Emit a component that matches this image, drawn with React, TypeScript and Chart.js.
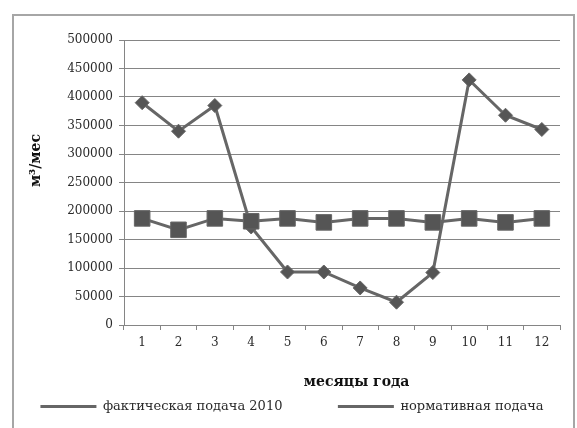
import React, { useEffect, useRef } from "react";
import { Chart, registerables } from "chart.js";

Chart.register(...registerables);

const months = ["1", "2", "3", "4", "5", "6", "7", "8", "9", "10", "11", "12"];
const factual2010 = [390000, 340000, 385000, 172000, 93000, 93000, 65000, 40000, 92000, 430000, 368000, 343000];
const normative = [187000, 167000, 187000, 182000, 187000, 180000, 187000, 187000, 180000, 187000, 180000, 187000];
const yMin = 0;
const yMax = 500000;
const yStep = 50000;
const seriesNames = ["фактическая подача 2010", "нормативная подача"];
const yAxisTitle = "м³/мес";
const xAxisTitle = "месяцы года";

const FONT = "'DejaVu Serif', 'Liberation Serif', serif";
const TEXT = "#2a2a2a";
const GRID = "#858585";
const LINE = "#666666";
const MARK = "#555555";

export default function App() {
  const ref = useRef<HTMLCanvasElement | null>(null);

  useEffect(() => {
    const canvas = ref.current;
    if (!canvas) return;
    const chart = new Chart(canvas, {
      type: "line",
      data: {
        labels: months,
        datasets: [
          {
            label: seriesNames[0],
            data: factual2010,
            borderColor: LINE,
            backgroundColor: MARK,
            borderWidth: 3,
            pointStyle: "rectRot",
            pointRadius: 7,
            pointBorderColor: LINE,
            pointBorderWidth: 1,
            pointBackgroundColor: MARK,
            order: 1,
          },
          {
            label: seriesNames[1],
            data: normative,
            borderColor: LINE,
            backgroundColor: MARK,
            borderWidth: 3,
            pointStyle: "rect",
            pointRadius: 11,
            pointBorderColor: LINE,
            pointBorderWidth: 1,
            pointBackgroundColor: MARK,
            order: 0,
          },
        ],
      },
      options: {
        responsive: false,
        animation: false,
        devicePixelRatio: 1,
        layout: { padding: { left: 10, right: 13, top: 24, bottom: 5 } },
        plugins: {
          tooltip: { enabled: false },
          legend: {
            position: "bottom",
            labels: {
              boxWidth: 56,
              boxHeight: 3,
              padding: 10,
              color: TEXT,
              font: { family: FONT, size: 13 },
              generateLabels: () => [
                {
                  text: seriesNames[0] + "           ",
                  fillStyle: LINE,
                  strokeStyle: LINE,
                  lineWidth: 0,
                  hidden: false,
                  datasetIndex: 0,
                  fontColor: TEXT,
                },
                {
                  text: seriesNames[1],
                  fillStyle: LINE,
                  strokeStyle: LINE,
                  lineWidth: 0,
                  hidden: false,
                  datasetIndex: 1,
                  fontColor: TEXT,
                },
              ],
            },
          },
        },
        scales: {
          x: {
            offset: true,
            grid: {
              drawOnChartArea: false,
              drawTicks: true,
              tickLength: 5,
              offset: true,
              color: GRID,
            },
            border: { color: GRID, width: 1 },
            ticks: { padding: 6, color: TEXT, font: { family: FONT, size: 12 } },
            title: {
              display: true,
              text: "      " + xAxisTitle,
              color: "#111",
              font: { family: FONT, size: 14, weight: "bold", lineHeight: 1 },
              padding: { top: 0, bottom: 1 },
            },
            afterFit: (s: any) => {
              s.height = 65;
            },
          },
          y: {
            min: yMin,
            max: yMax,
            grid: { color: GRID, tickLength: 5, lineWidth: 1 },
            border: { color: GRID, width: 1 },
            ticks: {
              stepSize: yStep,
              padding: 6,
              color: TEXT,
              font: { family: FONT, size: 12 },
              callback: (v: any) => String(v),
            },
            title: {
              display: true,
              text: "         " + yAxisTitle,
              color: "#111",
              font: { family: FONT, size: 14, weight: "bold", lineHeight: 1 },
              padding: { top: 5, bottom: 0 },
            },
            afterFit: (s: any) => {
              s.width = 100;
            },
          },
        },
      },
    } as any);
    return () => chart.destroy();
  }, []);

  return (
    <div
      style={{
        position: "absolute",
        left: 12,
        top: 14,
        width: 559,
        height: 412,
        borderTop: "2px solid #a6a6a6",
        borderLeft: "2px solid #a6a6a6",
        borderRight: "2px solid #a6a6a6",
        background: "#fff",
      }}
    >
      <canvas ref={ref} width={559} height={412} style={{ display: "block", width: 559, height: 412 }} />
    </div>
  );
}
